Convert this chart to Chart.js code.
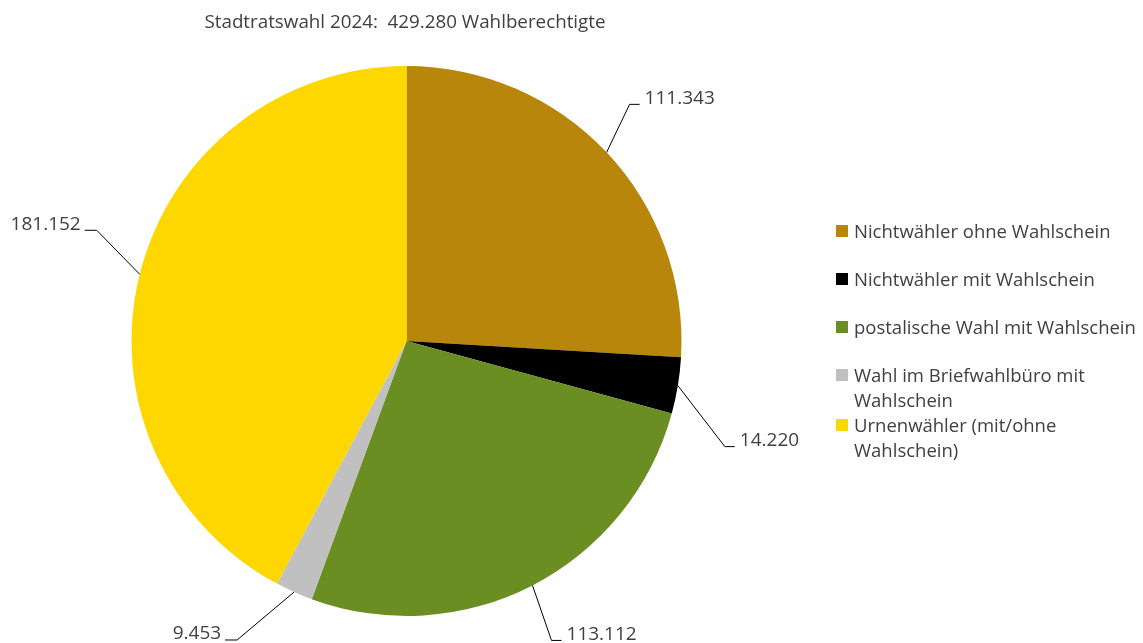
<!DOCTYPE html>
<html lang="de">
<head>
<meta charset="utf-8">
<script src="https://cdn.jsdelivr.net/npm/chart.js@4/dist/chart.umd.min.js"></script>
<style>
  body { margin: 0; background: #fff; font-family: "Open Sans", sans-serif; color: #404040; }
  #wrap { position: relative; width: 1143px; height: 643px; overflow: hidden; }
  #titel { position: absolute; left: 0; width: 810px; top: 8px; text-align: center; font-size: 18.8px; white-space: pre; }
  #legende { position: absolute; left: 836px; top: 218px; width: 308px; font-size: 18.5px; }
  .eintrag { position: relative; padding-left: 18px; line-height: 25px; }
  .kasten { position: absolute; left: 0; top: 7px; width: 12px; height: 12px; }
</style>
</head>
<body>
<div id="wrap">
  <canvas id="torte" width="1143" height="643"></canvas>
  <div id="titel">Stadtratswahl 2024:  429.280 Wahlberechtigte</div>
  <div id="legende"></div>
</div>
<script>
// Daten
const kategorien = [
  "Nichtwähler ohne Wahlschein",
  "Nichtwähler mit Wahlschein",
  "postalische Wahl mit Wahlschein",
  "Wahl im Briefwahlbüro mit Wahlschein",
  "Urnenwähler (mit/ohne Wahlschein)"
];
const anzahl = [111343, 14220, 113112, 9453, 181152];
const farben = ["#B8860B", "#000000", "#6B8E23", "#C0C0C0", "#FFD700"];

// Lage der Beschriftungen (Knick relativ zum Rand des Segments)
const knick = [[23, -48], [47, 61], [19, 55], [-57, 48], [-43, -44]];
const abstandZeilen = [23, 23, 23, 0, 23];

const fmt = v => v.toLocaleString("de-DE");

const beschriftungen = {
  id: "beschriftungen",
  afterDatasetsDraw(chart) {
    const ctx = chart.ctx;
    const meta = chart.getDatasetMeta(0);
    ctx.save();
    ctx.strokeStyle = "#000";
    ctx.lineWidth = 1;
    ctx.fillStyle = "#404040";
    ctx.font = "19px 'Open Sans'";
    ctx.textBaseline = "middle";
    meta.data.forEach((arc, i) => {
      const p = arc.getProps(["x", "y", "startAngle", "endAngle", "outerRadius"], true);
      const mitte = (p.startAngle + p.endAngle) / 2;
      const x0 = p.x + Math.cos(mitte) * p.outerRadius;
      const y0 = p.y + Math.sin(mitte) * p.outerRadius;
      const x1 = x0 + knick[i][0];
      const y1 = y0 + knick[i][1];
      const rechts = knick[i][0] > 0;
      const x2 = x1 + (rechts ? 10 : -12);
      ctx.beginPath();
      ctx.moveTo(x0, y0);
      ctx.lineTo(x1, y1);
      ctx.lineTo(x2, y1);
      ctx.stroke();
      ctx.textAlign = rechts ? "left" : "right";
      ctx.fillText(fmt(chart.data.datasets[0].data[i]), x2 + (rechts ? 5 : -4), y1 - 6);
    });
    ctx.restore();
  }
};

const chart = new Chart(document.getElementById("torte"), {
  type: "pie",
  data: {
    labels: kategorien,
    datasets: [{
      data: anzahl,
      backgroundColor: farben,
      borderWidth: 0
    }]
  },
  options: {
    responsive: false,
    animation: false,
    layout: { padding: { top: 66, bottom: 27, left: 131, right: 461 } },
    plugins: {
      legend: { display: false },
      tooltip: { enabled: false }
    }
  },
  plugins: [beschriftungen]
});

// Legende
const legende = document.getElementById("legende");
kategorien.forEach((name, i) => {
  const el = document.createElement("div");
  el.className = "eintrag";
  el.style.marginBottom = abstandZeilen[i] + "px";
  el.innerHTML = `<span class="kasten" style="background:${farben[i]}"></span>${name}`;
  legende.appendChild(el);
});
</script>
</body>
</html>
